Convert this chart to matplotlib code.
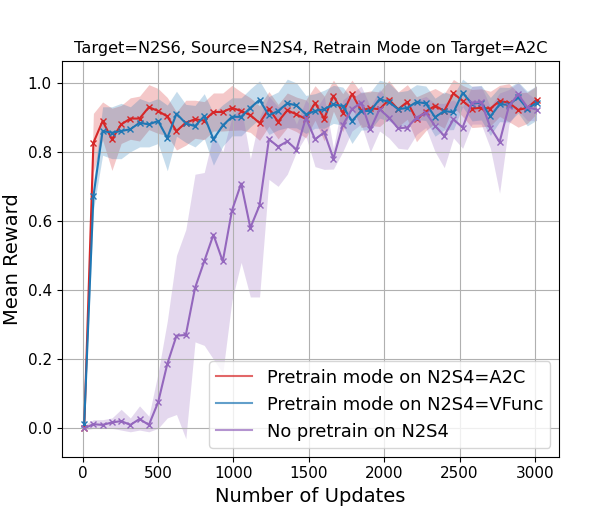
import numpy as np
import matplotlib
matplotlib.use("Agg")
import matplotlib.pyplot as plt
from matplotlib.lines import Line2D

# number of updates at each evaluation
updates = [10, 71, 132, 194, 255, 316, 377, 439, 500, 561,
           622, 684, 745, 806, 867, 929, 990, 1051, 1112, 1173,
           1235, 1296, 1357, 1418, 1480, 1541, 1602, 1663, 1725, 1786,
           1847, 1908, 1969, 2031, 2092, 2153, 2214, 2276, 2337, 2398,
           2459, 2520, 2582, 2643, 2704, 2765, 2827, 2888, 2949, 3010]

# Pretrain mode on N2S4=A2C
a2c_mean = [0.000, 0.826, 0.889, 0.836, 0.879, 0.896, 0.896, 0.929, 0.918, 0.902,
            0.860, 0.884, 0.894, 0.890, 0.915, 0.915, 0.927, 0.918, 0.906, 0.883,
            0.924, 0.887, 0.920, 0.908, 0.895, 0.941, 0.896, 0.962, 0.913, 0.967,
            0.920, 0.926, 0.923, 0.951, 0.923, 0.944, 0.894, 0.916, 0.933, 0.918,
            0.969, 0.947, 0.925, 0.927, 0.925, 0.947, 0.942, 0.921, 0.927, 0.950]
a2c_err = [0.000, 0.085, 0.055, 0.090, 0.055, 0.060, 0.065, 0.065, 0.065, 0.055,
           0.055, 0.065, 0.055, 0.055, 0.055, 0.055, 0.065, 0.055, 0.050, 0.050,
           0.050, 0.050, 0.050, 0.050, 0.055, 0.050, 0.065, 0.045, 0.055, 0.040,
           0.050, 0.050, 0.050, 0.055, 0.050, 0.050, 0.065, 0.055, 0.050, 0.050,
           0.040, 0.045, 0.055, 0.055, 0.050, 0.045, 0.055, 0.050, 0.045, 0.040]

# Pretrain mode on N2S4=VFunc
vf_mean = [0.013, 0.671, 0.860, 0.855, 0.860, 0.865, 0.884, 0.879, 0.889, 0.840,
           0.910, 0.882, 0.874, 0.903, 0.836, 0.876, 0.901, 0.901, 0.927, 0.950,
           0.905, 0.918, 0.940, 0.934, 0.908, 0.918, 0.923, 0.937, 0.932, 0.889,
           0.918, 0.918, 0.952, 0.944, 0.923, 0.927, 0.944, 0.940, 0.900, 0.918,
           0.914, 0.970, 0.939, 0.942, 0.902, 0.937, 0.936, 0.957, 0.925, 0.941]
vf_err = [0.005, 0.040, 0.070, 0.075, 0.080, 0.065, 0.070, 0.065, 0.065, 0.095,
          0.065, 0.055, 0.060, 0.065, 0.075, 0.060, 0.055, 0.055, 0.055, 0.055,
          0.055, 0.055, 0.070, 0.065, 0.055, 0.050, 0.055, 0.055, 0.055, 0.065,
          0.055, 0.055, 0.055, 0.055, 0.050, 0.050, 0.050, 0.050, 0.055, 0.055,
          0.050, 0.040, 0.050, 0.050, 0.055, 0.050, 0.050, 0.045, 0.050, 0.050]

# No pretrain on N2S4
none_mean = [0.000, 0.012, 0.010, 0.017, 0.021, 0.010, 0.027, 0.010, 0.075, 0.186,
             0.268, 0.270, 0.406, 0.483, 0.560, 0.483, 0.630, 0.708, 0.580, 0.645,
             0.836, 0.815, 0.830, 0.806, 0.898, 0.836, 0.856, 0.780, 0.877, 0.923,
             0.942, 0.865, 0.923, 0.899, 0.868, 0.870, 0.899, 0.913, 0.875, 0.846,
             0.894, 0.870, 0.942, 0.944, 0.870, 0.828, 0.932, 0.966, 0.929, 0.922]
none_low = [-0.005, 0.000, 0.000, 0.000, -0.005, -0.010, -0.005, -0.010, 0.000, 0.030,
            0.040, -0.030, 0.250, 0.240, 0.200, 0.160, 0.370, 0.480, 0.380, 0.380,
            0.720, 0.700, 0.735, 0.800, 0.845, 0.757, 0.749, 0.750, 0.800, 0.860,
            0.880, 0.800, 0.860, 0.840, 0.810, 0.807, 0.850, 0.870, 0.800, 0.754,
            0.840, 0.810, 0.880, 0.880, 0.810, 0.680, 0.880, 0.920, 0.890, 0.890]
none_high = [0.010, 0.025, 0.025, 0.030, 0.055, 0.030, 0.065, 0.035, 0.160, 0.310,
             0.500, 0.575, 0.735, 0.740, 0.850, 0.800, 0.900, 0.930, 0.780, 0.900,
             0.960, 0.930, 0.940, 0.880, 0.950, 0.920, 0.960, 0.810, 0.950, 0.970,
             0.990, 0.930, 0.980, 0.950, 0.920, 0.930, 0.950, 0.960, 0.940, 0.940,
             0.950, 0.930, 0.990, 0.990, 0.930, 0.970, 0.980, 1.000, 0.970, 0.950]

labels = ["Pretrain mode on N2S4=A2C", "Pretrain mode on N2S4=VFunc", "No pretrain on N2S4"]
colors = ["tab:red", "tab:blue", "tab:purple"]

x = np.array(updates)
bands = [
    (np.array(a2c_mean), np.array(a2c_mean) - np.array(a2c_err), np.array(a2c_mean) + np.array(a2c_err)),
    (np.array(vf_mean), np.array(vf_mean) - np.array(vf_err), np.array(vf_mean) + np.array(vf_err)),
    (np.array(none_mean), np.array(none_low), np.array(none_high)),
]

fig = plt.figure(figsize=(5.98, 5.14), dpi=100)
ax = fig.add_axes([0.103, 0.1115, 0.832, 0.7695])

for (m, lo, hi), c in zip(bands, colors):
    ax.fill_between(x, lo, hi, color=c, alpha=0.25, linewidth=0)
    ax.plot(x, m, color=c, marker="x", markersize=5, linewidth=1.5)

ax.grid(True, color="#b0b0b0", linewidth=0.8)
ax.set_title("Target=N2S6, Source=N2S4, Retrain Mode on Target=A2C", fontsize=11.65)
ax.set_xlabel("Number of Updates", fontsize=14)
ax.set_ylabel("Mean Reward", fontsize=14)
ax.tick_params(labelsize=11)

handles = [Line2D([0], [0], color=c, alpha=0.7, linewidth=1.5) for c in colors]
ax.legend(handles, labels, loc="lower right", fontsize=12.9)

fig.savefig("out.png", dpi=100)
